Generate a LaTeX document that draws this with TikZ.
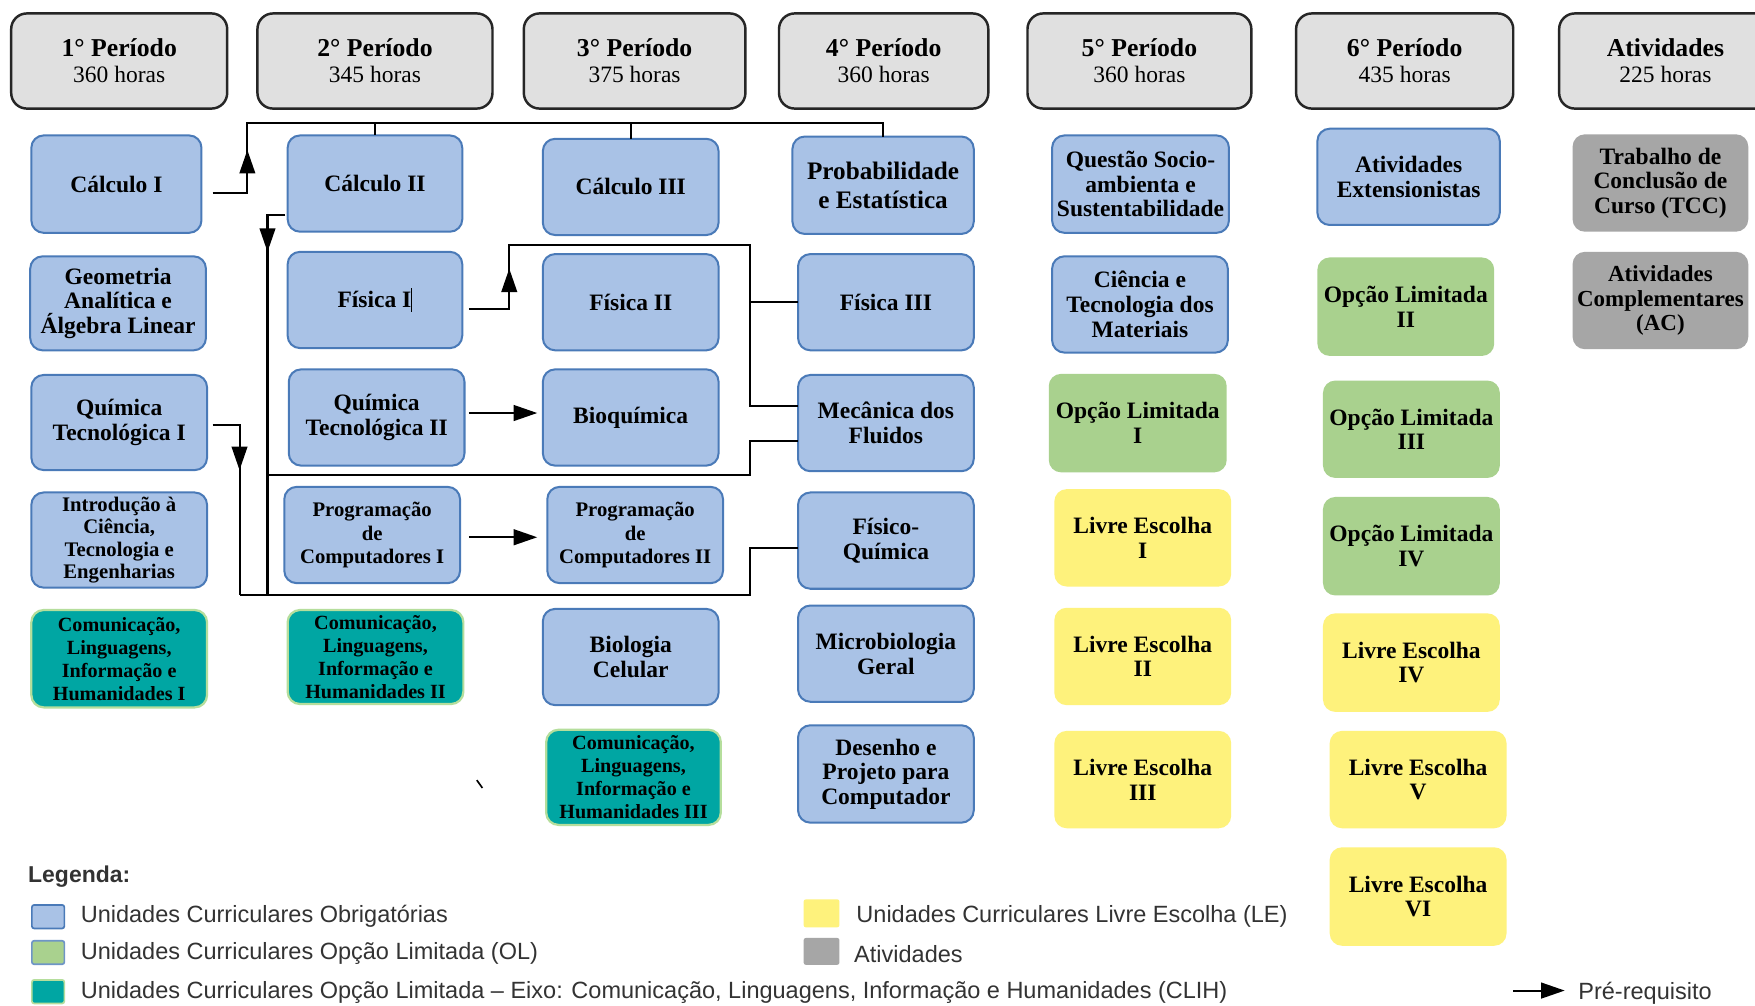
\documentclass[tikz,border=0pt]{standalone}
\usepackage{fontspec}
\setmainfont{Liberation Serif}
\newfontfamily\legfont{Liberation Sans}
\usetikzlibrary{arrows.meta,calc}
\definecolor{ucblue}{HTML}{A9C2E6}
\definecolor{ucbord}{HTML}{4A7AB8}
\definecolor{olgreen}{HTML}{A9D18E}
\definecolor{leyel}{HTML}{FEF27C}
\definecolor{atgray}{HTML}{A6A6A6}
\definecolor{clteal}{HTML}{00A6A3}
\definecolor{clbord}{HTML}{B5DE9C}
\definecolor{hdgray}{HTML}{E0E0E0}
\tikzset{
  box/.style={rounded corners=11pt, align=center, inner sep=0pt, outer sep=0pt,
    font=\bfseries\fontsize{21}{22}\selectfont},
  obbox/.style={box, fill=ucblue, draw=ucbord, line width=1.8pt},
  olbox/.style={box, fill=olgreen},
  lebox/.style={box, fill=leyel},
  atbox/.style={box, fill=atgray},
  clbox/.style={box, fill=clteal, draw=clbord, line width=2pt,
    font=\bfseries\fontsize{18}{20.5}\selectfont},
  hdbox/.style={box, fill=hdgray, draw=black!85, line width=2.2pt, rounded corners=14pt,
    font=\fontsize{21}{23}\selectfont},
  introtxt/.style={font=\bfseries\fontsize{18.5}{19.7}\selectfont},
  progtxt/.style={font=\bfseries\fontsize{18.5}{21}\selectfont},
  conn/.style={line width=1.8pt, black},
  arr/.style={-{Triangle[length=21pt,width=14pt]}, line width=1.8pt, black},
  legtxt/.style={anchor=west, inner sep=0pt, text=black!80,
    font=\legfont\fontsize{21}{22}\selectfont},
  legsq/.style={inner sep=0pt, outer sep=0pt, rounded corners=2pt}
}
\newcommand{\ubx}[7]{\node[#6, minimum width={#4-#2}, minimum height={#5-#3}] (#1) at ({(#2+#4)/2},{(#3+#5)/2}) {#7};}
\begin{document}
\begin{tikzpicture}[x=1pt,y=-1pt]
\useasboundingbox[fill=white] (0,0) rectangle (1568,898);
% headers
\ubx{h1}{10}{12}{203}{97}{hdbox}{{\bfseries\fontsize{23}{23}\selectfont 1° Período}\\360 horas}
\ubx{h2}{230}{12}{440}{97}{hdbox}{{\bfseries\fontsize{23}{23}\selectfont 2° Período}\\345 horas}
\ubx{h3}{468}{12}{666}{97}{hdbox}{{\bfseries\fontsize{23}{23}\selectfont 3° Período}\\375 horas}
\ubx{h4}{696}{12}{883}{97}{hdbox}{{\bfseries\fontsize{23}{23}\selectfont 4° Período}\\360 horas}
\ubx{h5}{918}{12}{1118}{97}{hdbox}{{\bfseries\fontsize{23}{23}\selectfont 5° Período}\\360 horas}
\ubx{h6}{1158}{12}{1352}{97}{hdbox}{{\bfseries\fontsize{23}{23}\selectfont 6° Período}\\435 horas}
\begin{scope}
\clip (0,0) rectangle (1568,898);
\ubx{h7}{1393}{12}{1583}{97}{hdbox}{{\bfseries\fontsize{23}{23}\selectfont Atividades}\\225 horas}
\end{scope}
% column 1
\ubx{calc1}{28}{121}{180}{208}{obbox}{Cálculo I}
\ubx{geo}{27}{229}{184}{313}{obbox}{Geometria\\Analítica e\\Álgebra Linear}
\ubx{q1}{28}{335}{185}{420}{obbox}{Química\\Tecnológica I}
\ubx{intro}{28}{440}{185}{525}{obbox,introtxt}{Introdução à\\Ciência,\\Tecnologia e\\Engenharias}
\ubx{cl1}{28}{545}{185}{632}{clbox}{Comunicação,\\Linguagens,\\Informação e\\Humanidades I}
% column 2
\ubx{calc2}{257}{121}{413}{207}{obbox}{Cálculo II}
\ubx{fis1}{257}{225}{413}{311}{obbox}{Física I\rule[-4pt]{1pt}{21pt}}
\ubx{q2}{258}{330}{415}{416}{obbox}{Química\\Tecnológica II}
\ubx{prog1}{254}{435}{411}{521}{obbox,progtxt}{Programação\\de\\Computadores I}
\ubx{cl2}{257}{545}{414}{629}{clbox}{Comunicação,\\Linguagens,\\Informação e\\Humanidades II}
% column 3
\ubx{calc3}{485}{124}{642}{210}{obbox}{Cálculo III}
\ubx{fis2}{485}{227}{642}{313}{obbox}{Física II}
\ubx{bioq}{485}{330}{642}{416}{obbox}{Bioquímica}
\ubx{prog2}{489}{435}{646}{521}{obbox,progtxt}{Programação\\de\\Computadores II}
\ubx{bio}{485}{544}{642}{630}{obbox}{Biologia\\Celular}
\ubx{cl3}{488}{652}{644}{737}{clbox}{Comunicação,\\Linguagens,\\Informação e\\Humanidades III}
% column 4
\ubx{prob}{708}{122}{870}{209}{obbox,font=\bfseries\fontsize{22.5}{26}\selectfont}{Probabilidade\\e Estatística}
\ubx{fis3}{713}{227}{870}{313}{obbox}{Física III}
\ubx{mec}{713}{335}{870}{421}{obbox}{Mecânica dos\\Fluidos}
\ubx{fq}{713}{440}{870}{526}{obbox}{Físico-\\Química}
\ubx{micro}{713}{541}{870}{627}{obbox}{Microbiologia\\Geral}
\ubx{des}{713}{648}{870}{735}{obbox}{Desenho e\\Projeto para\\Computador}
% column 5
\ubx{qs}{940}{121}{1098}{208}{obbox}{Questão Socio-\\ambienta e\\Sustentabilidade}
\ubx{ctm}{940}{229}{1097}{315}{obbox}{Ciência e\\Tecnologia dos\\Materiais}
\ubx{ol1}{937}{334}{1096}{422}{olbox}{Opção Limitada\\I}
\ubx{le1}{942}{437}{1100}{524}{lebox}{Livre Escolha\\I}
\ubx{le2}{942}{543}{1100}{630}{lebox}{Livre Escolha\\II}
\ubx{le3}{942}{653}{1100}{740}{lebox}{Livre Escolha\\III}
% column 6
\ubx{ext}{1177}{115}{1340}{201}{obbox}{Atividades\\Extensionistas}
\ubx{ol2}{1177}{230}{1335}{318}{olbox}{Opção Limitada\\II}
\ubx{ol3}{1182}{340}{1340}{427}{olbox}{Opção Limitada\\III}
\ubx{ol4}{1182}{444}{1340}{532}{olbox}{Opção Limitada\\IV}
\ubx{le4}{1182}{548}{1340}{636}{lebox}{Livre Escolha\\IV}
\ubx{le5}{1188}{653}{1346}{740}{lebox}{Livre Escolha\\V}
\ubx{le6}{1188}{757}{1346}{845}{lebox}{Livre Escolha\\VI}
% column 7
\ubx{tcc}{1405}{120}{1562}{207}{atbox}{Trabalho de\\Conclusão de\\Curso (TCC)}
\ubx{ac}{1405}{225}{1562}{312}{atbox,font=\bfseries\fontsize{20.5}{22}\selectfont}{Atividades\\Complementares\\(AC)}
% connectors
\coordinate (bl) at (221,110);
\coordinate (vx) at (670,0);
\coordinate (va) at (214,532);
\coordinate (vb) at (239,532);
\draw[conn] ($(calc1.east)+(10,7.5)$) -| (bl) -- (prob.north |- bl) -- (prob.north);
\draw[conn] (calc2.north |- bl) -- (calc2.north);
\draw[conn] (calc3.north |- bl) -- (calc3.north);
\draw[arr] (221,162) -- (221,134);
\draw[conn] ($(calc2.west)+(-2,28)$) -| (vb);
\draw[arr] (239,198) -- (239,225);
\draw[conn] ($(q1.east)+(5,2.5)$) -| (va);
\draw[arr] (214,394) -- (214,420);
\draw[conn] (va) -| ($(fq.west -| vx)+(0,7)$) -- ($(fq.west)+(0,7)$);
\draw[conn] (239,424) -| ($(mec.west -| vx)+(0,16)$) -- ($(mec.west)+(0,16)$);
\draw[conn] ($(fis1.east)+(6,8)$) -| (455,219) -| ($(mec.west -| vx)+(0,-15)$) -- ($(mec.west)+(0,-15)$);
\draw[arr] (455,266) -- (455,240);
\draw[conn] (fis3.west -| vx) -- (fis3.west);
\draw[arr] ($(q2.east)+(4,-4)$) -- ($(bioq.west)+(-5,-4)$);
\draw[arr] ($(prog1.east)+(8,2)$) -- ($(prog2.west)+(-9,2)$);
% stray tick
\draw[line width=1.5pt] (426,697) -- (431,704);
% legend
\node[legtxt, font=\legfont\bfseries\fontsize{20.5}{22}\selectfont] (leg) at (25,783) {Legenda:};
\node[legsq, fill=ucblue, draw=ucbord, line width=1.5pt, minimum width=29pt, minimum height=21pt] (lsq1) at (43,819) {};
\node[legtxt] (lt1) at (72,819) {Unidades Curriculares Obrigatórias};
\node[legsq, fill=olgreen, draw=ucbord!80, line width=1.5pt, minimum width=29pt, minimum height=21pt] (lsq2) at (43,851) {};
\node[legtxt] (lt2) at (72,852) {Unidades Curriculares Opção Limitada (OL)};
\node[legsq, fill=clteal, draw=clbord, line width=1.5pt, minimum width=29pt, minimum height=21pt] (lsq3) at (43,886) {};
\node[legtxt] (lt3) at (72,887) {Unidades Curriculares Opção Limitada – Eixo: Comunicação, Linguagens, Informação e Humanidades (CLIH)};
\node[legsq, fill=leyel, minimum width=32pt, minimum height=25pt] (lsq4) at (734,816) {};
\node[legtxt] (lt4) at (765,819) {Unidades Curriculares Livre Escolha (LE)};
\node[legsq, fill=atgray, minimum width=32pt, minimum height=24pt] (lsq5) at (734,850) {};
\node[legtxt] (lt5) at (763,852) {Atividades};
\coordinate (la) at (1352,885);
\node[legtxt] (lt6) at (1410,887) {Pré-requisito};
\draw[arr] (la) -- ($(lt6.west)+(-12,-2)$);
\end{tikzpicture}
\end{document}
